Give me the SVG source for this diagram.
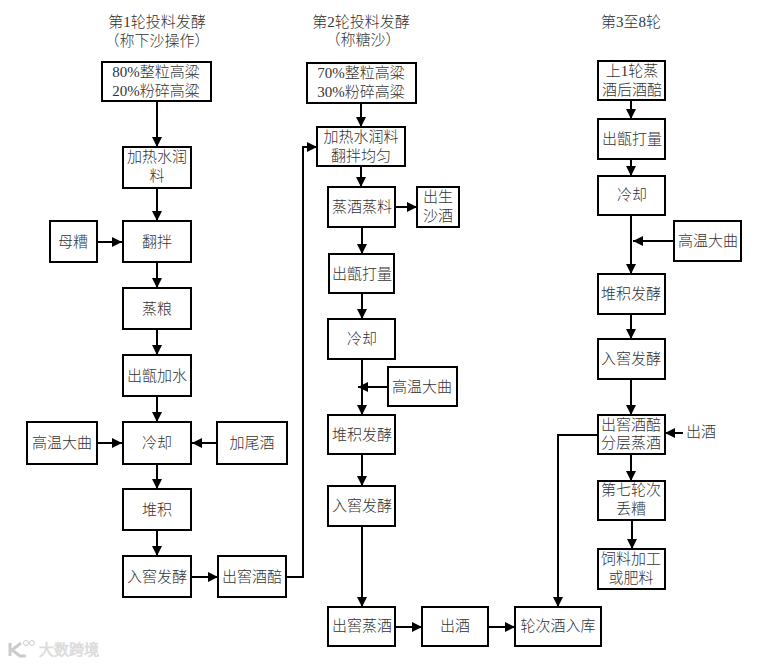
<svg xmlns="http://www.w3.org/2000/svg" width="763" height="664" viewBox="0 0 763 664">
<style>
text{font-family:"Liberation Serif","Noto Sans CJK SC",serif;font-size:15px;fill:#333;text-anchor:middle;font-weight:300}
.b{fill:#fff;stroke:#000;stroke-width:2}
.c{fill:none;stroke:#000;stroke-width:2}
.w{fill:#ccc;stroke:#ddd;font-size:15px}
</style>
<defs><marker id="a" markerUnits="userSpaceOnUse" markerWidth="12" markerHeight="12" refX="10" refY="5" orient="auto"><path d="M0 0L10 5L0 10Z" fill="#000"/></marker></defs>
<rect width="763" height="664" fill="#fff"/>
<g id="titles">
<text x="157" y="27">第1轮投料发酵</text><text x="157" y="46">（称下沙操作）</text>
<text x="361" y="27">第2轮投料发酵</text><text x="363" y="45">（称糖沙）</text>
<text x="631" y="27">第3至8轮</text>
</g>
<g id="connectors">
<path class="c" marker-end="url(#a)" d="M157 101V147"/>
<path class="c" marker-end="url(#a)" d="M157 188V221"/>
<path class="c" marker-end="url(#a)" d="M97 242H122"/>
<path class="c" marker-end="url(#a)" d="M157 262V288"/>
<path class="c" marker-end="url(#a)" d="M157 329V355"/>
<path class="c" marker-end="url(#a)" d="M157 396V422"/>
<path class="c" marker-end="url(#a)" d="M97 443H122"/>
<path class="c" marker-end="url(#a)" d="M217 443H192"/>
<path class="c" marker-end="url(#a)" d="M157 464V489"/>
<path class="c" marker-end="url(#a)" d="M157 530V556"/>
<path class="c" marker-end="url(#a)" d="M191 577H218"/>
<path class="c" marker-end="url(#a)" d="M286 577H303V147H317"/>
<path class="c" marker-end="url(#a)" d="M361 103V127"/>
<path class="c" marker-end="url(#a)" d="M361 166V187"/>
<path class="c" marker-end="url(#a)" d="M395 207H417"/>
<path class="c" marker-end="url(#a)" d="M362 227V254"/>
<path class="c" marker-end="url(#a)" d="M362 293V319"/>
<path class="c" marker-end="url(#a)" d="M362 359V415"/>
<path class="c" marker-end="url(#a)" d="M388 387H358"/>
<path class="c" marker-end="url(#a)" d="M362 454V486"/>
<path class="c" marker-end="url(#a)" d="M362 526V607"/>
<path class="c" marker-end="url(#a)" d="M395 627H422"/>
<path class="c" marker-end="url(#a)" d="M488 627H515"/>
<path class="c" marker-end="url(#a)" d="M631 100V119"/>
<path class="c" marker-end="url(#a)" d="M631 159V176"/>
<path class="c" marker-end="url(#a)" d="M631 215V274"/>
<path class="c" marker-end="url(#a)" d="M674 241H633"/>
<path class="c" marker-end="url(#a)" d="M631 314V339"/>
<path class="c" marker-end="url(#a)" d="M631 379V415"/>
<path class="c" marker-end="url(#a)" d="M631 454V481"/>
<path class="c" marker-end="url(#a)" d="M632 520V549"/>
<path class="c" marker-end="url(#a)" d="M683 433H665"/>
<path class="c" marker-end="url(#a)" d="M598 435H558V607"/>
</g>
<g id="n1"><rect class="b" x="102" y="62" width="109" height="39"/><text x="156" y="77">80%整粒高粱</text><text x="156" y="96">20%粉碎高粱</text></g>
<g id="n2"><rect class="b" x="123" y="147" width="68" height="41"/><text x="157" y="162">加热水润</text><text x="157" y="181">料</text></g>
<g id="n3"><rect class="b" x="50" y="221" width="47" height="41"/><text x="73" y="247">母糟</text></g>
<g id="n4"><rect class="b" x="123" y="221" width="68" height="41"/><text x="157" y="247">翻拌</text></g>
<g id="n5"><rect class="b" x="123" y="288" width="68" height="41"/><text x="157" y="314">蒸粮</text></g>
<g id="n6"><rect class="b" x="123" y="355" width="68" height="41"/><text x="157" y="381">出甑加水</text></g>
<g id="n7"><rect class="b" x="123" y="422" width="68" height="42"/><text x="157" y="448">冷却</text></g>
<g id="n8"><rect class="b" x="27" y="422" width="70" height="42"/><text x="62" y="448">高温大曲</text></g>
<g id="n9"><rect class="b" x="217" y="422" width="70" height="42"/><text x="252" y="448">加尾酒</text></g>
<g id="n10"><rect class="b" x="123" y="489" width="68" height="41"/><text x="157" y="515">堆积</text></g>
<g id="n11"><rect class="b" x="123" y="556" width="68" height="41"/><text x="157" y="582">入窖发酵</text></g>
<g id="n12"><rect class="b" x="218" y="556" width="68" height="41"/><text x="252" y="582">出窖酒醅</text></g>
<g id="n13"><rect class="b" x="307" y="63" width="109" height="40"/><text x="361" y="78">70%整粒高粱</text><text x="361" y="97">30%粉碎高粱</text></g>
<g id="n14"><rect class="b" x="317" y="127" width="88" height="39"/><text x="361" y="142">加热水润料</text><text x="361" y="161">翻拌均匀</text></g>
<g id="n15"><rect class="b" x="328" y="187" width="67" height="40"/><text x="362" y="212">蒸酒蒸料</text></g>
<g id="n16"><rect class="b" x="417" y="187" width="42" height="40"/><text x="438" y="202">出生</text><text x="438" y="221">沙酒</text></g>
<g id="n17"><rect class="b" x="329" y="254" width="65" height="39"/><text x="362" y="279">出甑打量</text></g>
<g id="n18"><rect class="b" x="328" y="319" width="67" height="40"/><text x="362" y="344">冷却</text></g>
<g id="n19"><rect class="b" x="388" y="367" width="69" height="39"/><text x="422" y="392">高温大曲</text></g>
<g id="n20"><rect class="b" x="328" y="415" width="67" height="39"/><text x="362" y="440">堆积发酵</text></g>
<g id="n21"><rect class="b" x="328" y="486" width="67" height="40"/><text x="362" y="511">入窖发酵</text></g>
<g id="n22"><rect class="b" x="328" y="607" width="67" height="39"/><text x="362" y="631">出窖蒸酒</text></g>
<g id="n23"><rect class="b" x="422" y="607" width="66" height="39"/><text x="455" y="631">出酒</text></g>
<g id="n24"><rect class="b" x="515" y="607" width="86" height="39"/><text x="558" y="631">轮次酒入库</text></g>
<g id="n25"><rect class="b" x="598" y="61" width="67" height="39"/><text x="632" y="76">上1轮蒸</text><text x="632" y="95">酒后酒醅</text></g>
<g id="n26"><rect class="b" x="598" y="119" width="67" height="40"/><text x="632" y="144">出甑打量</text></g>
<g id="n27"><rect class="b" x="598" y="176" width="67" height="39"/><text x="632" y="200">冷却</text></g>
<g id="n28"><rect class="b" x="674" y="221" width="67" height="40"/><text x="708" y="246">高温大曲</text></g>
<g id="n29"><rect class="b" x="598" y="274" width="67" height="40"/><text x="631" y="299">堆积发酵</text></g>
<g id="n30"><rect class="b" x="598" y="339" width="67" height="40"/><text x="631" y="364">入窖发酵</text></g>
<g id="n31"><rect class="b" x="598" y="415" width="67" height="39"/><text x="631" y="430">出窖酒醅</text><text x="631" y="448">分层蒸酒</text></g>
<g id="n32"><text x="701" y="437">出酒</text></g>
<g id="n33"><rect class="b" x="598" y="481" width="67" height="39"/><text x="631" y="495">第七轮次</text><text x="631" y="514">丢糟</text></g>
<g id="n34"><rect class="b" x="598" y="549" width="67" height="40"/><text x="631" y="564">饲料加工</text><text x="631" y="583">或肥料</text></g>
<g id="watermark"><text class="w" x="69" y="655">大数跨境</text><path d="M10 643V656M21 643L12 650L20 656H26" fill="none" stroke="#ccc" stroke-width="3"/><circle cx="26" cy="643" r="2.5" fill="none" stroke="#ccc"/><circle cx="32" cy="643" r="2.5" fill="none" stroke="#ccc"/></g>
</svg>
